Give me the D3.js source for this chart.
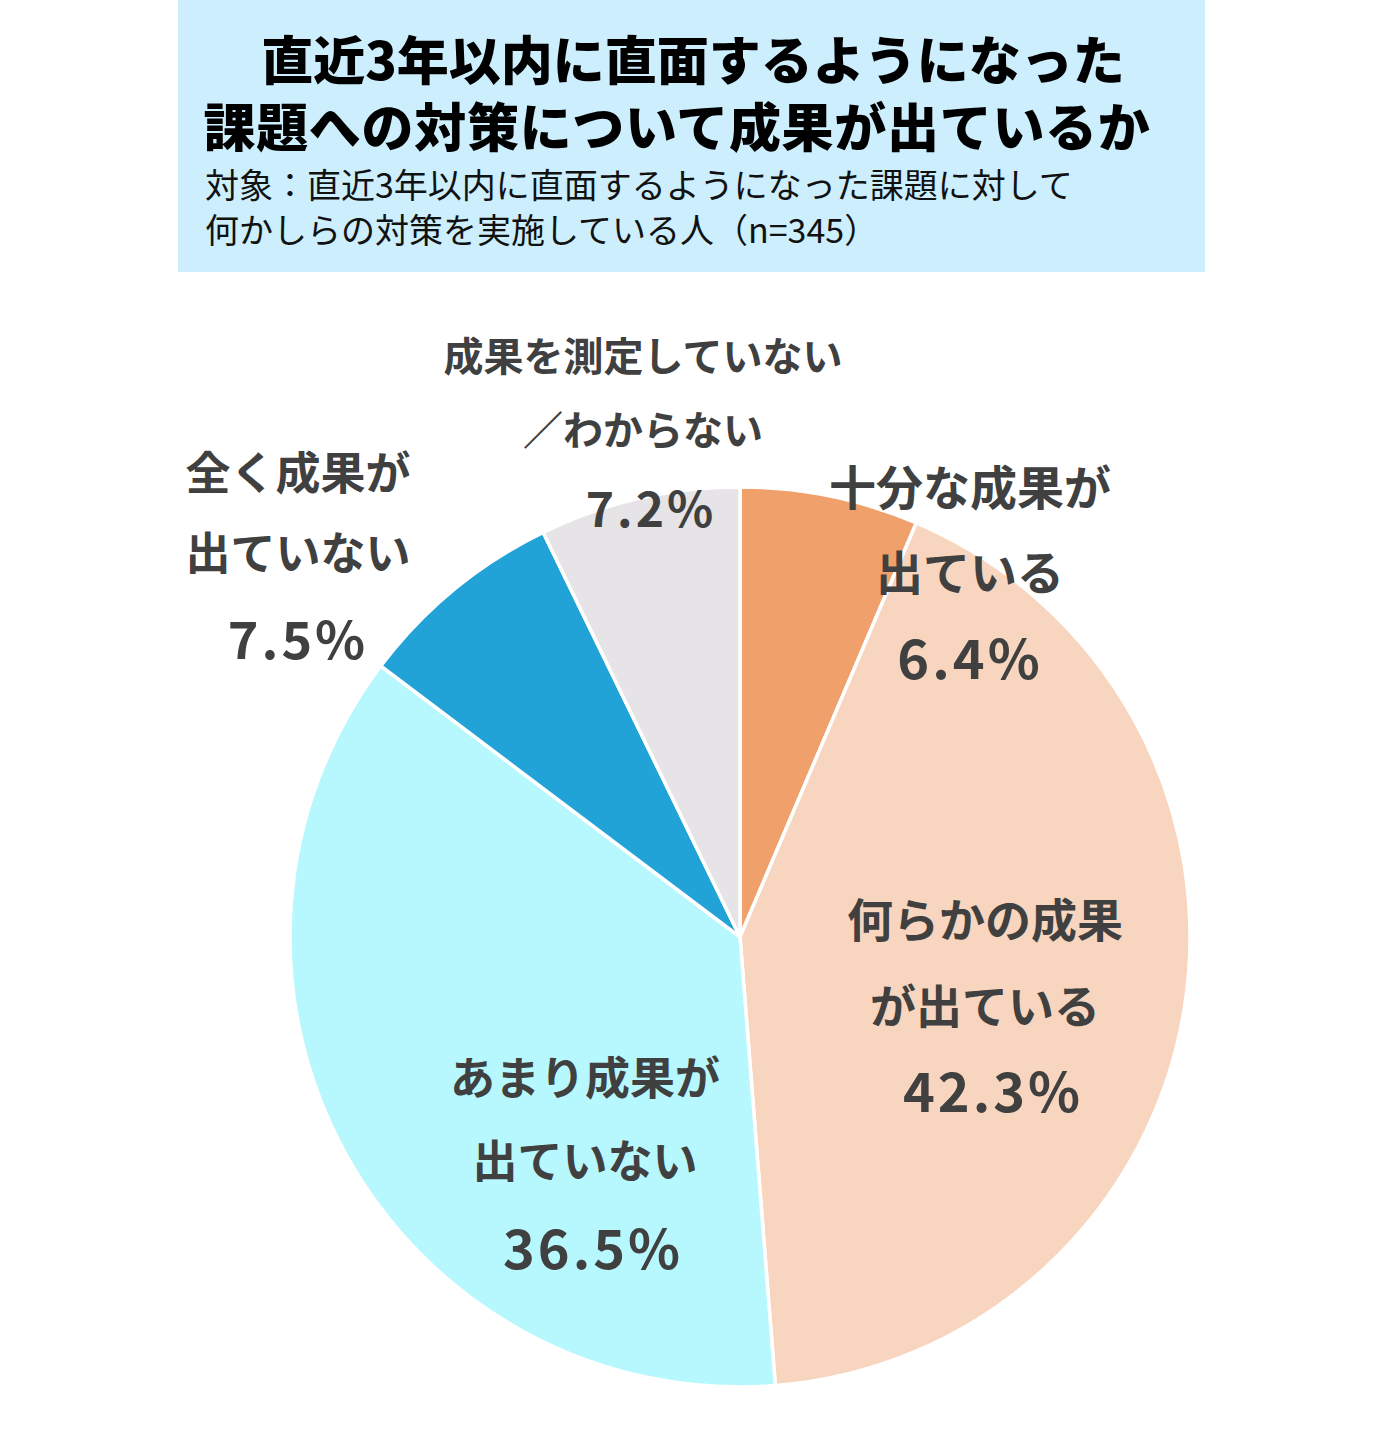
<!DOCTYPE html>
<html><head><meta charset="utf-8">
<script src="https://cdn.jsdelivr.net/npm/d3@7"></script>
<style>body{margin:0;background:#fff;} svg{display:block;}</style>
</head><body>
<script>
const categories = ["十分な成果が出ている","何らかの成果が出ている","あまり成果が出ていない","全く成果が出ていない","成果を測定していない／わからない"];
const values = [6.4, 42.3, 36.5, 7.5, 7.2];
const labelLines = [["十分な成果が","出ている"],["何らかの成果","が出ている"],["あまり成果が","出ていない"],["全く成果が","出ていない"],["成果を測定していない","／わからない"]];
const colors = ["#F0A06A","#F8D5BF","#B6F8FD","#22A3D8","#E6E4E6"];
const titleLines = ["直近3年以内に直面するようになった","課題への対策について成果が出ているか"];
const subtitleLines = ["対象：直近3年以内に直面するようになった課題に対して","何かしらの対策を実施している人（n=345）"];

const W=1400,H=1443;
const svg=d3.select("body").append("svg").attr("width",W).attr("height",H);
const font='"Noto Sans CJK JP","Noto Sans",sans-serif';

// header
svg.append("rect").attr("x",178).attr("y",0).attr("width",1027).attr("height",272).attr("fill","#CCEEFD");
const titleX=[693,677];
const title=svg.append("text").attr("text-anchor","middle")
  .attr("font-family",font).attr("font-weight",900).attr("font-size",52).attr("fill","#000");
title.selectAll("tspan").data(titleLines).join("tspan")
  .attr("x",(d,i)=>titleX[i]).attr("y",(d,i)=>80+i*67)
  .attr("letter-spacing",(d,i)=>i===1?0.7:0)
  .text(d=>d);
const sub=svg.append("text").attr("font-family",font).attr("font-weight",400)
  .attr("font-size",34).attr("fill","#111");
sub.selectAll("tspan").data(subtitleLines).join("tspan")
  .attr("x",205).attr("y",(d,i)=>198+i*45).text(d=>d);

// pie
const cx=740, cy=937, R=450;
const pie=d3.pie().sort(null).value(d=>d)(values);
const arc=d3.arc().innerRadius(0).outerRadius(R);
const g=svg.append("g").attr("transform",`translate(${cx},${cy})`);
g.selectAll("path").data(pie).join("path").attr("d",arc)
  .attr("fill",(d,i)=>colors[i]).attr("stroke","#fff").attr("stroke-width",3.5);

// label layout (relative to pie center): x, baseline of first line, line gap, font sizes
const labelLayout=[
  {x:230,y:-432,gap:85,fs:47,px:230,py:-258,pfs:54},
  {x:245,y:0,gap:86,fs:46,px:253,py:175,pfs:54},
  {x:-155,y:158,gap:83,fs:45,px:-147,py:332,pfs:54},
  {x:-442,y:-447,gap:80,fs:45,px:-442,py:-278,pfs:52},
  {x:-97,y:-566,gap:74,fs:40,px:-89,py:-410,pfs:48}
];
const fmt=d3.format(".1f");
values.forEach((v,i)=>{
  const L=labelLayout[i];
  const t=g.append("text").attr("text-anchor","middle").attr("font-family",font)
    .attr("font-weight",700).attr("font-size",L.fs).attr("fill","#404040");
  labelLines[i].forEach((l,j)=>{
    t.append("tspan").attr("x",L.x).attr("y",L.y+j*L.gap).text(l);
  });
  g.append("text").attr("x",L.px).attr("y",L.py).attr("text-anchor","middle")
    .attr("font-family",font).attr("font-weight",700).attr("font-size",L.pfs).attr("letter-spacing",3)
    .attr("fill","#404040").text(fmt(v)+"%");
});
</script>
</body></html>
